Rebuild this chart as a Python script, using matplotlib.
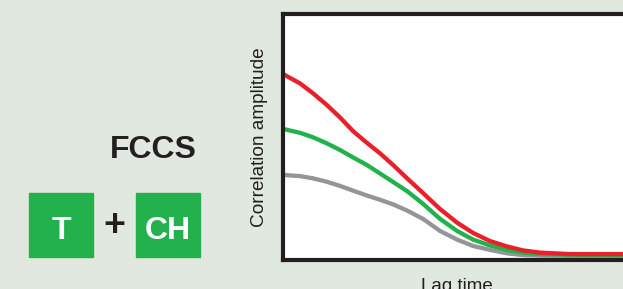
import matplotlib.pyplot as plt
from matplotlib.patches import Rectangle

plt.rcParams["font.family"] = ["Liberation Sans", "DejaVu Sans"]

# Data (lag time and amplitude in axis units)
lag = [0.0, 0.050, 0.088, 0.129, 0.168, 0.206, 0.247, 0.285, 0.324, 0.365,
       0.412, 0.462, 0.512, 0.559, 0.609, 0.659, 0.706, 0.756, 0.844, 1.0]
red = [0.756, 0.718, 0.678, 0.630, 0.579, 0.524, 0.476, 0.434, 0.386, 0.332,
       0.272, 0.207, 0.152, 0.110, 0.077, 0.055, 0.039, 0.030, 0.024, 0.024]
green = [0.533, 0.517, 0.499, 0.474, 0.447, 0.417, 0.386, 0.352, 0.317, 0.280,
         0.228, 0.167, 0.118, 0.083, 0.059, 0.041, 0.030, 0.024, 0.022, 0.020]
gray = [0.346, 0.341, 0.332, 0.318, 0.301, 0.282, 0.262, 0.245, 0.226, 0.201,
        0.167, 0.118, 0.083, 0.057, 0.041, 0.027, 0.020, 0.018, 0.017, 0.017]

bg = "#e1e8e0"
dark = "#231f20"
box_green = "#23b14d"

fig = plt.figure(figsize=(6.23, 2.89), dpi=100, facecolor=bg)

ax = fig.add_axes([283 / 623, 29 / 289, 348 / 623, 246 / 289])
ax.set_facecolor("white")
ax.plot(lag, gray, color="#939598", lw=3.1, solid_capstyle="butt")
ax.plot(lag, green, color="#22b24c", lw=3.1, solid_capstyle="butt")
ax.plot(lag, red, color="#e8202a", lw=3.1, solid_capstyle="butt")
ax.set_xlim(0, 348 / 340)
ax.set_ylim(0, 1)
ax.set_xticks([])
ax.set_yticks([])
for side in ["left", "top", "bottom"]:
    ax.spines[side].set_color(dark)
    ax.spines[side].set_linewidth(3.0)
ax.spines["right"].set_visible(False)
ax.set_ylabel("Correlation amplitude", fontsize=13.7, color=dark, labelpad=11)
ax.set_xlabel("Lag time", fontsize=13.5, color=dark, labelpad=13)

# Left panel: label and boxes
fig.text(197 / 623, 1 - 158 / 289, "FCCS", fontsize=23, fontweight="bold",
         color=dark, ha="right", va="baseline")

for x0, label in [(29, "T"), (136, "CH")]:
    fig.patches.append(Rectangle((x0 / 623, 1 - 257 / 289), 64 / 623, 64 / 289,
                                 transform=fig.transFigure, color=box_green))
    fig.text((x0 + 32) / 623, 1 - 239 / 289, label, fontsize=23,
             fontweight="bold", color="white", ha="center", va="baseline")

fig.text(114 / 623, 1 - 226 / 289, "+", fontsize=27, fontweight="bold",
         color=dark, ha="center", va="center")

fig.savefig("out.png", dpi=100, facecolor=bg)
